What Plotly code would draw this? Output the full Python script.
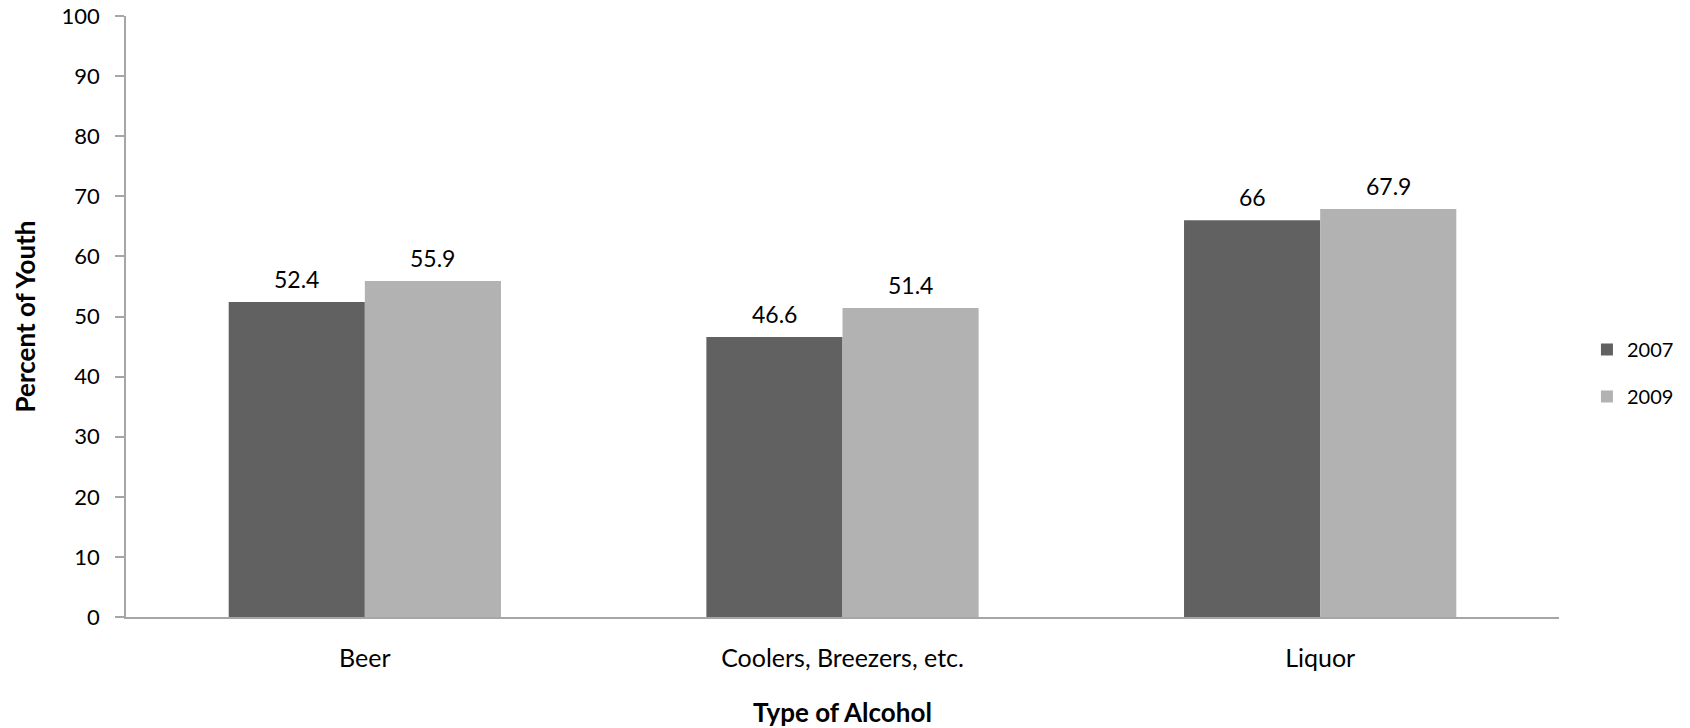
import plotly.graph_objects as go

categories = ["Beer", "Coolers, Breezers, etc.", "Liquor"]
series_names = ["2007", "2009"]
values_2007 = [52.4, 46.6, 66]
values_2009 = [55.9, 51.4, 67.9]
y_ticks = [0, 10, 20, 30, 40, 50, 60, 70, 80, 90, 100]

colors = {"2007": "#616161", "2009": "#b2b2b2"}
FONT = "Lato"

fig = go.Figure()
for name, vals in zip(series_names, [values_2007, values_2009]):
    fig.add_trace(go.Bar(
        x=categories, y=vals, name=name, legendgroup=name,
        marker=dict(color=colors[name], line=dict(width=0)),
    ))

# data labels
bar_px = 136
for shift, vals in zip([-bar_px / 2, bar_px / 2], [values_2007, values_2009]):
    for c, v in zip(categories, vals):
        fig.add_annotation(
            x=c, y=v, xref="x", yref="y", text=f"{v:g}",
            showarrow=False, xshift=shift, yanchor="bottom", yshift=7,
            font=dict(family=FONT, size=23, color="#000000"),
        )

fig.update_layout(
    width=1690, height=728,
    margin=dict(l=126, r=131, t=16, b=110.5, autoexpand=False),
    plot_bgcolor="white", paper_bgcolor="white",
    barmode="group", bargap=0.43, bargroupgap=0,
    showlegend=True,
    legend=dict(
        x=1.0195, xanchor="left", xref="paper", y=0.406, yanchor="middle",
        font=dict(family=FONT, size=20, color="#000000"),
        itemwidth=30, tracegroupgap=18,
        traceorder="grouped",
    ),
    font=dict(family=FONT, color="#000000"),
)

fig.update_yaxes(
    range=[0, 100], tickvals=y_ticks, ticktext=[str(t) for t in y_ticks],
    showgrid=False, zeroline=False, automargin=False,
    showline=True, linecolor="#a6a6a6", linewidth=1.5,
    ticks="outside", ticklen=9, tickcolor="#a6a6a6", tickwidth=1.5,
    ticklabelstandoff=11,
    tickfont=dict(family=FONT, size=22, color="#000000"),
    title=dict(text="<b>Percent of Youth</b>", font=dict(family=FONT, size=26, color="#000000"), standoff=18),
)
fig.update_xaxes(
    showgrid=False, zeroline=False, automargin=False,
    showline=True, linecolor="#a6a6a6", linewidth=1.5,
    ticks="", ticklabelstandoff=18,
    tickfont=dict(family=FONT, size=25, color="#000000"),
    title=dict(text="<b>Type of Alcohol</b>", font=dict(family=FONT, size=26, color="#000000"), standoff=47),
)

fig.write_html("out.html", config={"displayModeBar": False},
               post_script="document.body.style.margin='0';")
